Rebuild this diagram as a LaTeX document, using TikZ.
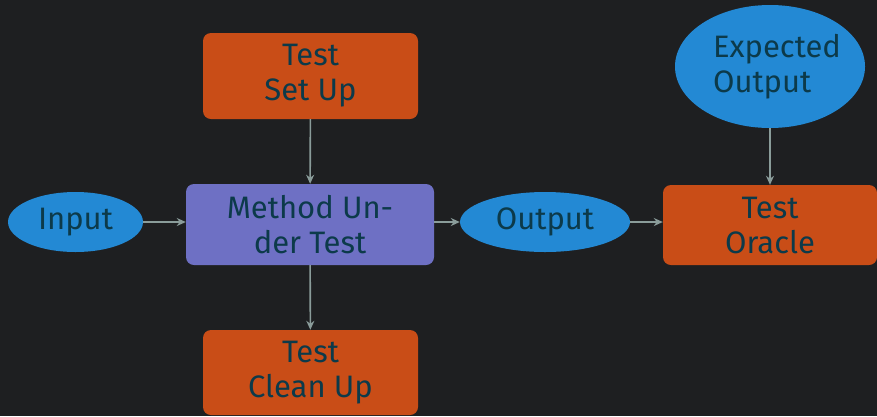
\documentclass[tikz,border=0pt]{standalone}
\usepackage{fontspec}
\setmainfont{Fira Sans}
\usetikzlibrary{shapes.geometric,arrows.meta}
\definecolor{bg}{HTML}{1E1F21}
\definecolor{orng}{HTML}{C94D17}
\definecolor{purp}{HTML}{6E70C4}
\definecolor{blu}{HTML}{2389D4}
\definecolor{txt}{HTML}{0C3A4A}
\definecolor{arr}{HTML}{8A9C9A}
\tikzset{
  base/.style={inner sep=0pt, text=txt, font=\fontsize{31}{35}\selectfont, align=center},
  obox/.style={base, fill=orng, rounded corners=8pt, minimum width=215pt, minimum height=86pt},
  pbox/.style={base, fill=purp, rounded corners=8pt, minimum width=248pt, minimum height=81pt},
  ell/.style={base, ellipse, fill=blu},
  conn/.style={draw=arr, line width=1.6pt, -{Stealth[length=9pt,width=8pt]}}
}
\begin{document}
\begin{tikzpicture}[x=1pt,y=-1pt]
\fill[bg] (0,0) rectangle (877,416);
\useasboundingbox (0,0) rectangle (877,416);
\node[obox] (setup) at (310.5,76) {Test\\Set Up};
\node[pbox] (mut) at (310,224.5) {Method Un-\\der Test};
\node[obox, minimum height=85pt] (clean) at (310.5,372.5) {Test\\Clean Up};
\node[ell, minimum width=135pt, minimum height=60pt] (input) at (75.5,222) {Input};
\node[ell, minimum width=170pt, minimum height=60pt] (output) at (545,222) {Output};
\node[obox, minimum width=214pt, minimum height=80pt] (oracle) at (770,225) {Test\\Oracle};
\node[ell, minimum width=190pt, minimum height=123pt, align=left, inner xsep=-10pt, inner ysep=-10pt] (exp) at (770,66.5) {\hspace*{14pt}Expected\\\hspace*{14pt}Output};
\draw[conn] (input) -- (mut.west |- input);
\draw[conn] (mut.east |- output) -- (output);
\draw[conn] (output) -- (oracle.west |- output);
\draw[conn] (setup) -- (mut);
\draw[conn] (mut) -- (clean);
\draw[conn] (exp) -- (oracle);
\end{tikzpicture}
\end{document}
